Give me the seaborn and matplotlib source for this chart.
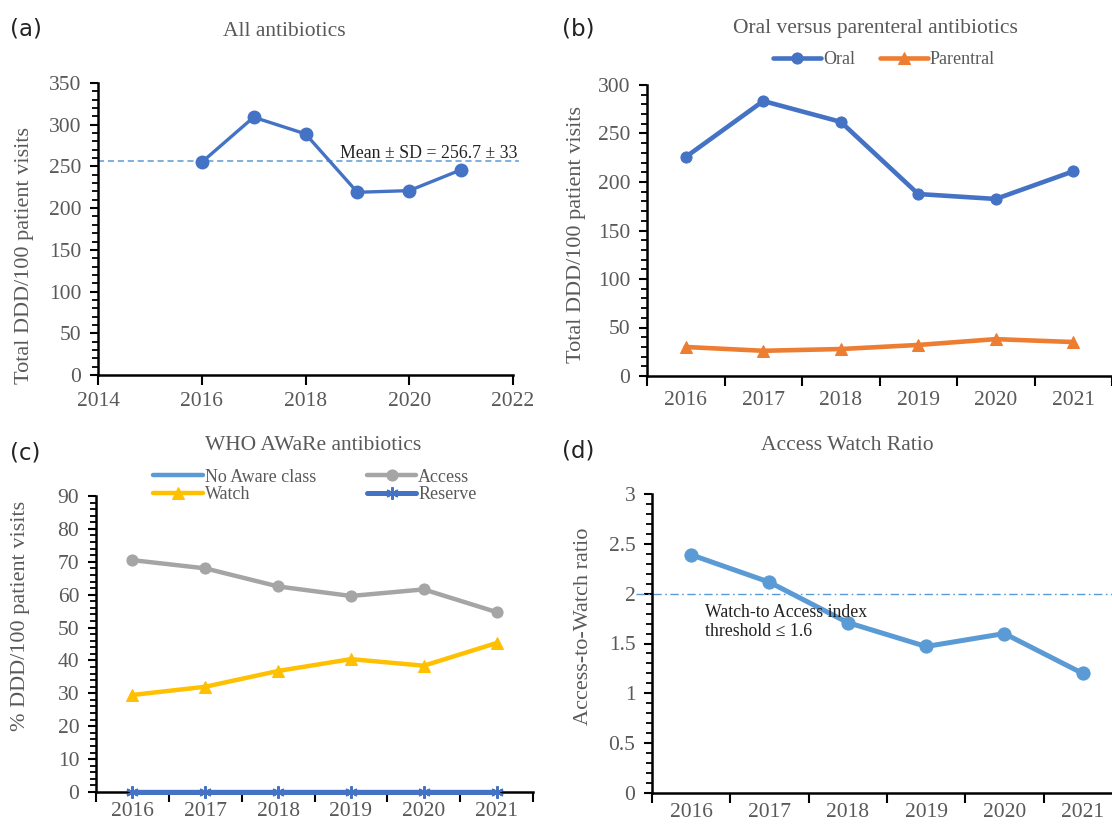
import matplotlib
matplotlib.use('Agg')
import matplotlib.pyplot as plt
import matplotlib.ticker as mticker
import seaborn as sns
import numpy as np

# ---------------- data ----------------
years = [2016, 2017, 2018, 2019, 2020, 2021]
year_labels = ["2016", "2017", "2018", "2019", "2020", "2021"]

total_ddd = [255, 309, 289, 219, 221, 246]
mean_sd_value = 256.7
mean_sd_text = "Mean ± SD = 256.7 ± 33"

oral = [225.8, 283.5, 262.0, 187.6, 182.5, 211.0]
parental = [29.9, 26.0, 27.8, 32.0, 38.0, 35.0]

no_aware = [0, 0, 0, 0, 0, 0]
access = [70.5, 68.0, 62.5, 59.6, 61.6, 54.7]
watch = [29.5, 32.0, 36.8, 40.4, 38.4, 45.3]
reserve = [0, 0, 0, 0, 0, 0]

aw_ratio = [2.39, 2.115, 1.71, 1.47, 1.60, 1.20]
threshold_value = 2.0
threshold_text = "Watch-to Access index\nthreshold ≤ 1.6"

titles = ["All antibiotics", "Oral versus parenteral antibiotics",
          "WHO AWaRe antibiotics", "Access Watch Ratio"]
panel_tags = ["(a)", "(b)", "(c)", "(d)"]

# ---------------- style ----------------
sns.set_style("ticks")
plt.rcParams['font.family'] = ['Liberation Serif', 'DejaVu Serif']

GREY = '#595959'
BLUE = '#4472C4'
ORANGE = '#ED7D31'
LGREY = '#A5A5A5'
GOLD = '#FFC000'
LBLUE = '#5B9BD5'

TICK_FS = 15.5
LAB_FS = 16
TITLE_FS = 15.5
LEG_FS = 13
NOTE_FS = 12.8

W, H = 1112, 826
fig = plt.figure(figsize=(W / 100, H / 100), dpi=100)
fig.patch.set_facecolor('white')


def px_axes(l, t, r, b):
    return fig.add_axes([l / W, 1 - b / H, (r - l) / W, (b - t) / H])


axa = px_axes(98, 83, 513, 375)
axb = px_axes(647, 85, 1112, 376)
axc = px_axes(96, 496, 533, 792)
axd = px_axes(652, 494, 652 + 6 * 78.3, 793)


def style(ax, ymax, ystep, yminor):
    sns.despine(ax=ax)
    for s in ['left', 'bottom']:
        ax.spines[s].set_linewidth(1.8)
        ax.spines[s].set_color('black')
    ax.set_ylim(0, ymax)
    ax.yaxis.set_major_locator(mticker.MultipleLocator(ystep))
    ax.yaxis.set_minor_locator(mticker.MultipleLocator(yminor))
    ax.yaxis.set_major_formatter(mticker.FuncFormatter(lambda v, p: f'{v:g}'))
    ax.tick_params(axis='y', which='major', direction='out', length=6, width=1.5,
                   color='black', labelsize=TICK_FS, labelcolor=GREY, pad=6)
    ax.tick_params(axis='y', which='minor', direction='out', length=4, width=1.3,
                   color='black')
    ax.tick_params(axis='x', which='major', direction='out', length=7, width=1.5,
                   color='black', labelsize=TICK_FS, labelcolor=GREY, pad=5)
    ax.grid(False)
    ax.set_facecolor('none')
    ax.set_xlabel('')


def cat_x(ax, pad):
    ax.set_xlim(-0.5, 5.5)
    ax.set_xticks(np.arange(-0.5, 6.0, 1.0))
    ax.set_xticklabels([])
    ax.set_xticks(range(6), minor=True)
    ax.set_xticklabels(year_labels, minor=True)
    ax.tick_params(axis='x', which='minor', length=0, labelsize=TICK_FS,
                   labelcolor=GREY, pad=pad)


def ylab(ax, text, xc, yc):
    ax.set_ylabel(text, fontsize=LAB_FS, color=GREY)
    ax.yaxis.set_label_coords(xc / W, 1 - yc / H, transform=fig.transFigure)
    ax.yaxis.label.set_verticalalignment('center')


# ---------------- (a) ----------------
sns.lineplot(x=years, y=total_ddd, ax=axa, color=BLUE, marker='o', markersize=9,
             linewidth=2.4, markeredgecolor=BLUE, markeredgewidth=1, errorbar=None)
axa.axhline(mean_sd_value, xmin=0, xmax=1.015, color=LBLUE, lw=1.1,
            ls=(0, (4, 2.5)), clip_on=False, zorder=1)
style(axa, 350, 50, 10)
axa.set_xlim(2014, 2022)
axa.xaxis.set_major_locator(mticker.MultipleLocator(2))
ylab(axa, "Total DDD/100 patient visits", 25, 255)
fig.text(518 / W, 1 - 153 / H, mean_sd_text, ha='right', va='center',
         fontsize=NOTE_FS, color='#222222')
if axa.get_legend():
    axa.get_legend().remove()

# ---------------- (b) ----------------
sns.lineplot(x=year_labels, y=oral, ax=axb, color=BLUE, marker='o', markersize=8,
             linewidth=3.3, markeredgecolor=BLUE, label='Oral', errorbar=None, sort=False)
sns.lineplot(x=year_labels, y=parental, ax=axb, color=ORANGE, marker='^', markersize=9,
             linewidth=3.3, markeredgecolor=ORANGE, label='Parentral', errorbar=None, sort=False)
style(axb, 300, 50, 10)
cat_x(axb, 11)
ylab(axb, "Total DDD/100 patient visits", 577, 234)
h, l = axb.get_legend_handles_labels()
axb.legend(h, l, loc='center', bbox_to_anchor=(884 / W, 1 - 60 / H),
           bbox_transform=fig.transFigure, ncol=2, frameon=False, fontsize=LEG_FS,
           handlelength=2.65, handletextpad=0.1, columnspacing=1.4, labelcolor=GREY)

# ---------------- (c) ----------------
sns.lineplot(x=year_labels, y=no_aware, ax=axc, color=LBLUE, linewidth=3.2,
             label='No Aware class', errorbar=None, sort=False, clip_on=False, zorder=3)
sns.lineplot(x=year_labels, y=access, ax=axc, color=LGREY, marker='o', markersize=8,
             linewidth=3.2, markeredgecolor=LGREY, label='Access', errorbar=None, sort=False)
sns.lineplot(x=year_labels, y=watch, ax=axc, color=GOLD, marker='^', markersize=9,
             linewidth=3.2, markeredgecolor=GOLD, label='Watch', errorbar=None, sort=False)
sns.lineplot(x=year_labels, y=reserve, ax=axc, color=BLUE, marker=(6, 2, 0), markersize=9,
             linewidth=3.6, markeredgecolor=BLUE, markeredgewidth=1.5, label='Reserve',
             errorbar=None, sort=False, clip_on=False, zorder=4)
style(axc, 90, 10, 2)
cat_x(axc, 7)
ylab(axc, "% DDD/100 patient visits", 21, 616)
h, l = axc.get_legend_handles_labels()
hd = dict(zip(l, h))
order = ['No Aware class', 'Watch', 'Access', 'Reserve']
axc.legend([hd[k] for k in order], order, loc='center',
           bbox_to_anchor=(315 / W, 1 - 486 / H), bbox_transform=fig.transFigure,
           ncol=2, frameon=False, fontsize=LEG_FS, handlelength=2.75, handletextpad=0.1,
           columnspacing=2.8, labelspacing=0.05, labelcolor=GREY)

# ---------------- (d) ----------------
sns.lineplot(x=year_labels, y=aw_ratio, ax=axd, color=LBLUE, marker='o', markersize=9.5,
             linewidth=3.6, markeredgecolor=LBLUE, errorbar=None, sort=False)
axd.axhline(threshold_value, xmin=-(652 - 636) / (6 * 78.3), xmax=1, color=LBLUE,
            lw=1.0, ls=(0, (6, 2.5, 1.2, 2.5)), clip_on=False, zorder=1)
style(axd, 3, 0.5, 0.1)
cat_x(axd, 7)
ylab(axd, "Access-to-Watch ratio", 583, 626)
fig.text(705 / W, 1 - 622 / H, threshold_text, ha='left', va='center',
         fontsize=NOTE_FS, color='#222222', linespacing=1.15)
if axd.get_legend():
    axd.get_legend().remove()

# ---------------- titles & tags ----------------
title_pos = [(284, 31), (875, 29), (313, 446), (847, 446)]
for t, (x, y) in zip(titles, title_pos):
    fig.text(x / W, 1 - y / H, t, ha='center', va='center', fontsize=TITLE_FS, color=GREY)

tag_pos = [(10, 29), (562, 29), (10, 453), (562, 451)]
for t, (x, y) in zip(panel_tags, tag_pos):
    fig.text(x / W, 1 - y / H, t, ha='left', va='center', fontsize=16.5,
             color='#222222', family=['DejaVu Sans'])

fig.savefig('out.png', dpi=100)
